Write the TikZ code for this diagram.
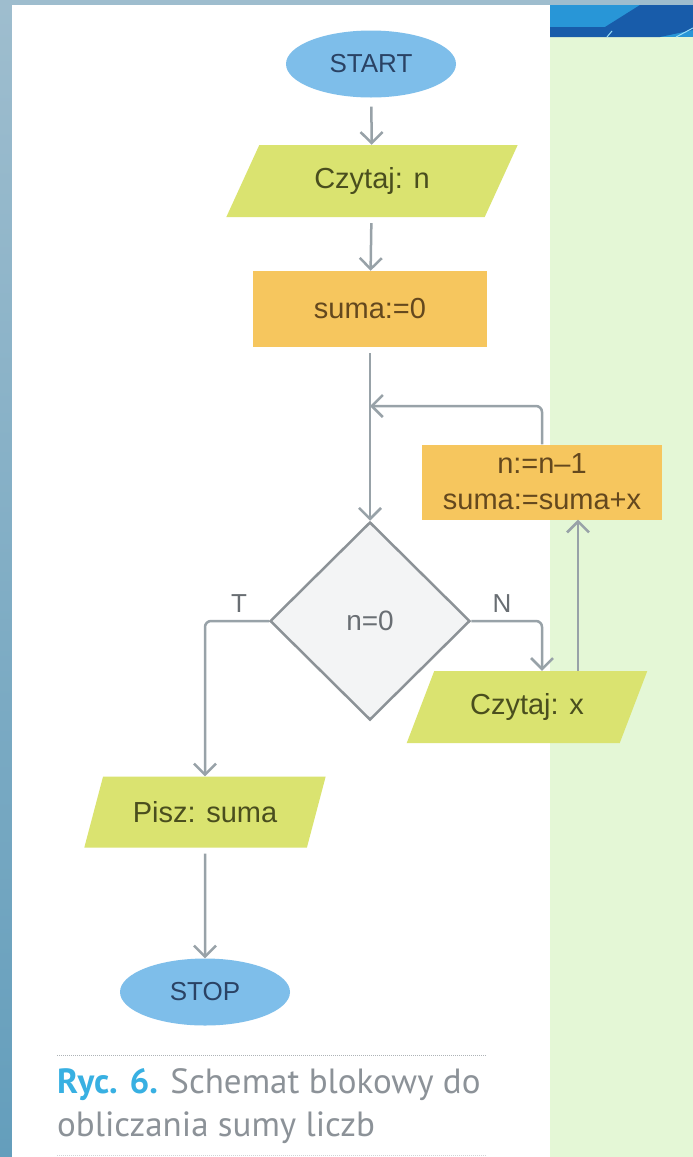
\documentclass[tikz,border=0pt]{standalone}
\usepackage{fontspec}
\setmainfont{Liberation Sans}
\newfontfamily\capfont{PT Sans}
\usetikzlibrary{shapes.geometric,arrows.meta}
\definecolor{framecol}{RGB}{158,189,206}
\definecolor{framedark}{RGB}{100,158,188}
\definecolor{greenbg}{RGB}{228,247,214}
\definecolor{bandblue}{RGB}{40,150,215}
\definecolor{banddark}{RGB}{24,92,170}
\definecolor{termfill}{RGB}{126,190,234}
\definecolor{termtext}{RGB}{42,66,100}
\definecolor{iofill}{RGB}{218,227,112}
\definecolor{iotext}{RGB}{74,78,30}
\definecolor{procfill}{RGB}{246,198,94}
\definecolor{proctext}{RGB}{100,72,30}
\definecolor{decfill}{RGB}{243,244,245}
\definecolor{decline}{RGB}{140,146,151}
\definecolor{flowgray}{RGB}{152,162,168}
\definecolor{labgray}{RGB}{105,110,115}
\definecolor{capblue}{RGB}{56,176,226}
\definecolor{capgray}{RGB}{140,146,152}

\begin{document}
\begin{tikzpicture}[x=1pt,y=-1pt,
		termin/.style={ellipse,fill=termfill,text=termtext,minimum width=170pt,minimum height=67pt,inner sep=0pt,font=\fontsize{26}{30}\selectfont},
		iobox/.style={trapezium,trapezium left angle=58,trapezium right angle=122,trapezium stretches=true,fill=iofill,text=iotext,minimum height=72pt,inner sep=0pt,font=\fontsize{29}{32}\selectfont},
		procbox/.style={rectangle,fill=procfill,text=proctext,inner sep=0pt,align=center,font=\fontsize{29}{36}\selectfont},
		decbox/.style={diamond,aspect=1,draw=decline,line width=2.5pt,fill=decfill,text=labgray,minimum width=200pt,minimum height=198pt,inner sep=0pt,font=\fontsize{28}{32}\selectfont},
		flow/.style={draw=flowgray,line width=2.5pt,-{Straight Barb[length=11pt,width=22pt]}},
		gap/.style={shorten <=6pt},
		lbl/.style={text=labgray,inner sep=0pt,font=\fontsize{26}{30}\selectfont},
		captxt/.style={anchor=base west,inner sep=0pt,text=capgray,font=\capfont\fontsize{35}{40}\selectfont}]
	\useasboundingbox (0,0) rectangle (693,1157);
	\fill[framecol] (0,0) rectangle (693,5);
	\shade[top color=framecol,bottom color=framedark] (0,5) rectangle (12,1157);
	\fill[white] (12,5) rectangle (550,1157);
	\fill[greenbg] (550,37) rectangle (693,1157);
	\fill[bandblue] (550,5) rectangle (693,37);
	\fill[banddark] (550,27) -- (605,27) -- (640,5) -- (693,5) -- (693,30) -- (660,37) -- (550,37) -- cycle;
	\draw[cyan!40,line width=1pt] (607,37) -- (612,31);
	\draw[cyan!40,line width=1pt] (676,37) -- (693,28);

	\node[termin] (start) at (371,64) {START};
	\node[iobox,minimum width=292pt] (readn) at (372,181) {Czytaj: n};
	\node[procbox,minimum width=234pt,minimum height=76pt] (init) at (370,309) {suma:=0};
	\coordinate (join) at (370,406);
	\node[procbox,minimum width=240pt,minimum height=75pt] (update) at (542,482) {n:=n--1\\suma:=suma+x};
	\node[decbox] (cond) at (370,621) {n=0};
	\node[iobox,minimum width=241pt] (readx) at (527,707) {Czytaj: x};
	\node[iobox,minimum width=242pt,minimum height=71pt] (write) at (205,812) {Pisz: suma};
	\node[termin] (stop) at (205,992) {STOP};
	\node[lbl] (tlab) at (239,604) {T};
	\node[lbl] (nlab) at (502,604) {N};

	\draw[flow,shorten <=9pt] (start) -- (readn);
	\draw[flow,gap] (readn) -- (init);
	\draw[flow,gap] (init) -- (cond);
	\draw[flow,rounded corners=6pt] (update.north) |- (join);
	\draw[flow,rounded corners=6pt] (cond.east) -| ([xshift=15pt]readx.north);
	\draw[flow] ([xshift=51pt]readx.north) -- ([xshift=51pt]readx.north |- update.south);
	\draw[flow,rounded corners=6pt] (cond.west) -| (write.north);
	\draw[flow,gap] (write) -- (stop);

	\draw[capgray!70,line width=1pt,densely dotted] (57,1055) -- (486,1055);
	\node[captxt] (cap1) at (57,1093) {\textcolor{capblue}{\bfseries Ryc. 6.} Schemat blokowy do};
	\node[captxt] (cap2) at (57,1136) {obliczania sumy liczb};
	\draw[capgray!40,line width=1pt,densely dotted] (57,1155) -- (486,1155);
\end{tikzpicture}
\end{document}
